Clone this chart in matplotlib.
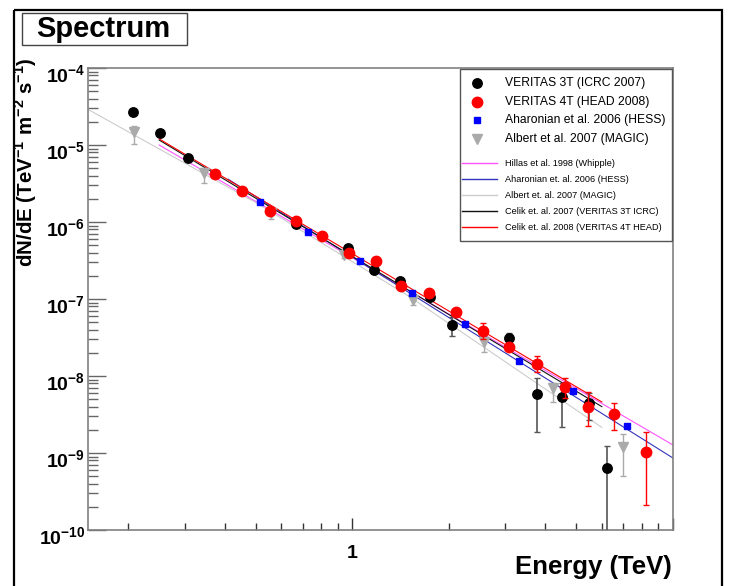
import numpy as np
import matplotlib.pyplot as plt
from matplotlib.patches import Rectangle
from matplotlib.ticker import LogLocator, NullFormatter

plt.rcParams['font.family'] = ['Liberation Sans', 'DejaVu Sans']
plt.rcParams['mathtext.fontset'] = 'custom'
plt.rcParams['mathtext.rm'] = 'Liberation Sans'
plt.rcParams['mathtext.bf'] = 'Liberation Sans:bold'

# VERITAS 3T (ICRC 2007): energy (TeV), flux, lower/upper error ends
v3_E = [0.207, 0.251, 0.307, 0.668, 0.97, 1.17, 1.41, 1.75, 2.05, 3.09, 3.78, 4.5, 5.46, 6.22]
v3_F = [2.68e-5, 1.43e-5, 6.8e-6, 9.4e-7, 4.6e-7, 2.38e-7, 1.71e-7, 1.06e-7, 4.6e-8, 3.1e-8, 5.8e-9, 5.3e-9, 4.5e-9, 6.4e-10]
v3_lo = [2.6e-5, 1.39e-5, 6.6e-6, 9.1e-7, 4.4e-7, 2.2e-7, 1.6e-7, 1.0e-7, 3.3e-8, 2.6e-8, 1.9e-9, 2.2e-9, 2.7e-9, 1e-11]
v3_hi = [2.76e-5, 1.47e-5, 7.0e-6, 9.7e-7, 4.9e-7, 2.55e-7, 1.85e-7, 1.15e-7, 5.8e-8, 3.6e-8, 9.4e-9, 8.1e-9, 6.0e-9, 1.23e-9]

# VERITAS 4T (HEAD 2008)
v4_E = [0.373, 0.453, 0.555, 0.668, 0.806, 0.98, 1.19, 1.42, 1.74, 2.10, 2.55, 3.07, 3.78, 4.6, 5.42, 6.54, 8.24]
v4_F = [4.2e-6, 2.53e-6, 1.39e-6, 1.03e-6, 6.6e-7, 3.96e-7, 3.1e-7, 1.48e-7, 1.2e-7, 6.8e-8, 3.8e-8, 2.4e-8, 1.43e-8, 7.2e-9, 3.95e-9, 3.2e-9, 1.03e-9]
v4_lo = [4.1e-6, 2.45e-6, 1.35e-6, 1.0e-6, 6.4e-7, 3.8e-7, 3.0e-7, 1.42e-7, 1.14e-7, 6.4e-8, 3.0e-8, 2.2e-8, 1.13e-8, 5.2e-9, 2.24e-9, 2.0e-9, 2.1e-10]
v4_hi = [4.3e-6, 2.6e-6, 1.43e-6, 1.06e-6, 6.8e-7, 4.1e-7, 3.2e-7, 1.55e-7, 1.27e-7, 7.2e-8, 4.9e-8, 2.6e-8, 1.8e-8, 9.4e-9, 6.2e-9, 4.5e-9, 1.87e-9]

# Aharonian et al. 2006 (HESS)
hess_E = [0.516, 0.729, 1.06, 1.54, 2.24, 3.3, 4.87, 7.18]
hess_F = [1.82e-6, 7.4e-7, 3.1e-7, 1.2e-7, 4.7e-8, 1.57e-8, 6.4e-9, 2.25e-9]

# Albert et al. 2007 (MAGIC)
magic_E = [0.209, 0.345, 0.56, 0.944, 1.55, 2.57, 4.22, 6.98]
magic_F = [1.47e-5, 4.3e-6, 1.3e-6, 3.7e-7, 9.7e-8, 2.8e-8, 7.0e-9, 1.2e-9]
magic_lo = [1.03e-5, 3.2e-6, 1.1e-6, 3.4e-7, 8.4e-8, 2.05e-8, 4.6e-9, 5.0e-10]
magic_hi = [1.77e-5, 5.0e-6, 1.45e-6, 4.0e-7, 1.1e-7, 3.4e-8, 8.1e-9, 1.77e-9]

# fitted spectra (energy, flux)
hillas_E = [0.25, 10]
hillas_F = [1.0e-5, 1.27e-9]
hessfit_E = [0.41, 10]
hessfit_F = [3.6e-6, 8.6e-10]
magicfit_E = [0.15, 0.5, 1.5, 6]
magicfit_F = [2.9e-5, 1.79e-6, 1.09e-7, 2.15e-9]
celik07_E = [0.25, 6]
celik07_F = [1.16e-5, 4.0e-9]
celik08_E = [0.25, 6]
celik08_F = [1.2e-5, 4.6e-9]

point_labels = ['VERITAS 3T (ICRC 2007)', 'VERITAS 4T (HEAD 2008)',
                'Aharonian et al. 2006 (HESS)', 'Albert et al. 2007 (MAGIC)']
line_labels = ['Hillas et al. 1998 (Whipple)', 'Aharonian et. al. 2006 (HESS)',
               'Albert et. al. 2007 (MAGIC)', 'Celik et. al. 2007 (VERITAS 3T ICRC)',
               'Celik et. al. 2008 (VERITAS 4T HEAD)']


def yerr(F, lo, hi):
    F, lo, hi = np.array(F), np.array(lo), np.array(hi)
    return [F - lo, hi - F]


fig = plt.figure(figsize=(7.29, 5.86), dpi=100)
ax = fig.add_axes([88/729, 1 - 530/586, (673 - 88)/729, (530 - 68)/586])
ax.set_xscale('log')
ax.set_yscale('log')
ax.set_xlim(0.15, 10)
ax.set_ylim(1e-10, 1e-4)

line_colors = ['#ff55ff', '#3333bb', '#cccccc', '#111111', '#ff0000']
fits = [(hillas_E, hillas_F), (hessfit_E, hessfit_F), (magicfit_E, magicfit_F),
        (celik07_E, celik07_F), (celik08_E, celik08_F)]
for (E, F), c in zip(fits, line_colors):
    ax.plot(E, F, color=c, lw=0.8, zorder=2)

ax.errorbar(magic_E, magic_F, yerr=yerr(magic_F, magic_lo, magic_hi), fmt='v',
            color='#aaaaaa', ms=7, elinewidth=1, capsize=2.5, zorder=3)
ax.errorbar(v3_E, v3_F, yerr=yerr(v3_F, v3_lo, v3_hi), fmt='o', color='black',
            ecolor='#555555', ms=6.8, elinewidth=1.2, capsize=2.5, zorder=4)
ax.errorbar(v4_E, v4_F, yerr=yerr(v4_F, v4_lo, v4_hi), fmt='o', color='#ff0000',
            ms=7.5, elinewidth=1, capsize=2.5, zorder=5)
ax.plot(hess_E, hess_F, 's', color='#0000ff', ms=5, zorder=6)

for s in ax.spines.values():
    s.set_color('#808080')
    s.set_linewidth(1.2)

for axis in (ax.xaxis, ax.yaxis):
    axis.set_major_locator(LogLocator(base=10, numticks=12))
    axis.set_minor_locator(LogLocator(base=10, subs=np.arange(2, 10), numticks=12))
    axis.set_minor_formatter(NullFormatter())
ax.tick_params(which='both', direction='in', top=False, right=False,
               labelleft=False, labelbottom=False)
ax.tick_params(axis='y', which='major', length=13, width=1, color='#666666')
ax.tick_params(axis='y', which='minor', length=7, width=1, color='#666666')
ax.tick_params(axis='x', which='major', length=9, width=1, color='#333333')
ax.tick_params(axis='x', which='minor', length=5, width=1, color='#333333')

for e in range(-10, -3):
    ax.annotate(rf'$\mathbf{{10^{{{e}}}}}$', xy=(0, 10.0**e),
                xycoords=('axes fraction', 'data'), xytext=(-2, 3),
                textcoords='offset points', ha='right', va='top', fontsize=14)
ax.annotate('1', xy=(1, 0), xycoords=('data', 'axes fraction'), xytext=(0, -11),
            textcoords='offset points', ha='center', va='top', fontsize=14,
            fontweight='bold')

fig.text(672/729, 1 - 574/586, 'Energy (TeV)', ha='right', va='baseline',
         fontsize=18.5, fontweight='bold')
fig.text(26/729, 1 - 57/586,
         r'dN/dE (TeV$^{\mathbf{-1}}$ m$^{\mathbf{-2}}$ s$^{\mathbf{-1}}$)',
         rotation=90, ha='center', va='top', fontsize=14.8, fontweight='bold')

# overlay in pixel coordinates for frame, title box and legend
ov = fig.add_axes([0, 0, 1, 1], zorder=5)
ov.set_xlim(0, 729)
ov.set_ylim(586, 0)
ov.axis('off')
ov.add_patch(Rectangle((14, 10), 708, 600, fill=False, lw=1.6, ec='black', clip_on=False))
ov.add_patch(Rectangle((22, 13), 165, 32, fill=False, lw=1, ec='#444444'))
ov.text(103, 29, 'Spectrum', ha='center', va='center', fontsize=21, fontweight='bold')

ov.add_patch(Rectangle((460, 69), 212, 172, fc='white', lw=1, ec='#555555'))
point_styles = [('o', 'black', 6.8), ('o', '#ff0000', 7.5), ('s', '#0000ff', 5),
                ('v', '#aaaaaa', 7)]
for y, lab, (m, c, ms) in zip([83, 102, 120, 139], point_labels, point_styles):
    ov.plot(477, y, m, color=c, ms=ms)
    ov.text(505, y, lab, va='center', fontsize=8.7)
for y, lab, c in zip([163, 179, 195, 211, 227], line_labels, line_colors):
    ov.plot([462, 497], [y, y], color=c, lw=1)
    ov.text(505, y, lab, va='center', fontsize=6.6)

fig.savefig('out.png', dpi=100)
